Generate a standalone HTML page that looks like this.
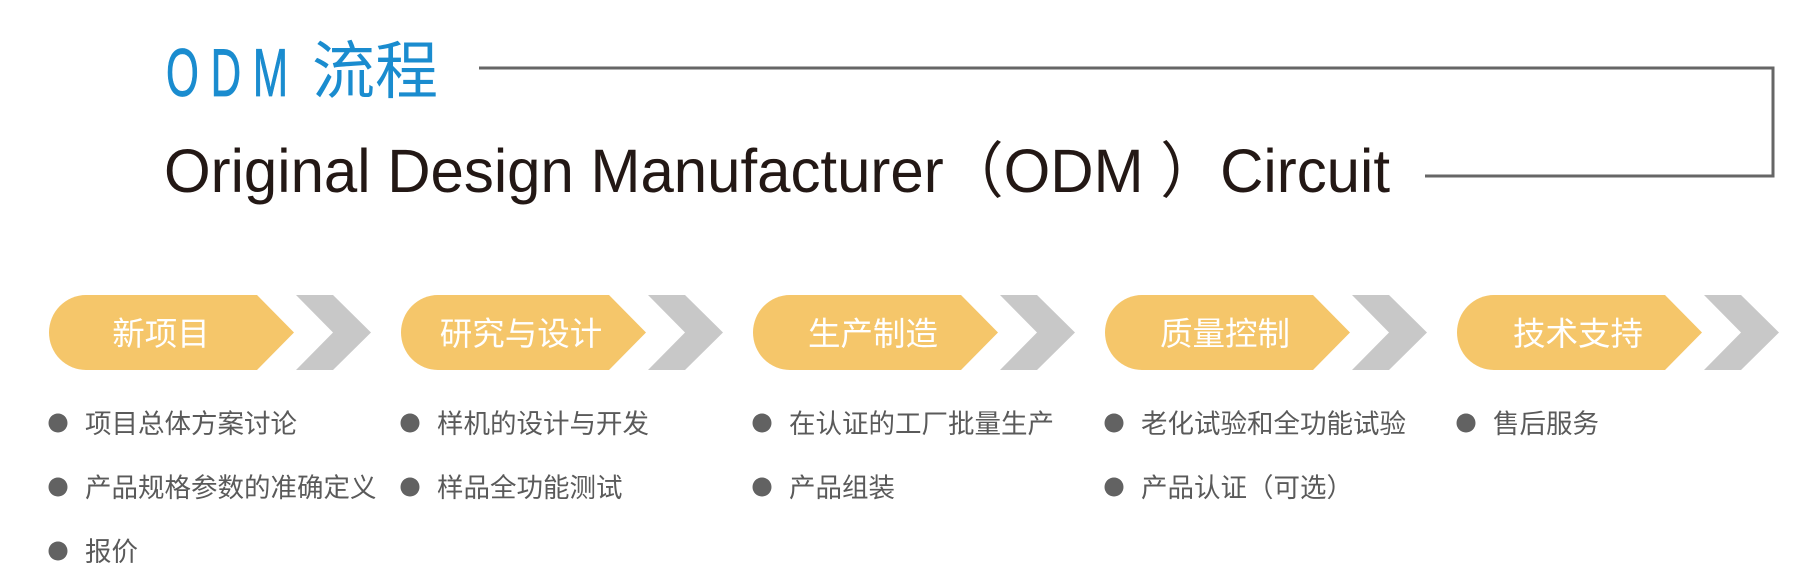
<!DOCTYPE html>
<html><head><meta charset="utf-8">
<style>
html,body{margin:0;padding:0;background:#fff;}
svg{display:block;}
</style></head>
<body>
<svg width="1811" height="571" viewBox="0 0 1811 571" xmlns="http://www.w3.org/2000/svg">
<g font-family="'Liberation Sans','Noto Sans CJK SC',sans-serif">
<text x="166" y="96" font-size="68" fill="#1a8ccf" stroke="#1a8ccf" stroke-width="0.8" textLength="122" lengthAdjust="spacingAndGlyphs">O D M</text>
<text x="312" y="93" font-size="63" fill="#1a8ccf" font-family="'Noto Sans CJK SC',sans-serif">流程</text>
<text x="164" y="192" font-size="61" fill="#231815" textLength="1226" lengthAdjust="spacingAndGlyphs">Original Design Manufacturer（ODM ）Circuit</text>
<polyline points="479,68 1773,68 1773,176 1425,176" fill="none" stroke="#666" stroke-width="3"/>
</g>
<g font-family="'Liberation Sans','Noto Sans CJK SC',sans-serif">
<path d="M86 295 H257 L294 332.5 L257 370 H86 A37 37.5 0 0 1 86 295 Z" fill="#f5c66a"/>
<path d="M296 295 H333 L371 332.5 L333 370 H296 L333 332.5 Z" fill="#c8c8c8"/>
<path d="M438 295 H609 L646 332.5 L609 370 H438 A37 37.5 0 0 1 438 295 Z" fill="#f5c66a"/>
<path d="M648 295 H685 L723 332.5 L685 370 H648 L685 332.5 Z" fill="#c8c8c8"/>
<path d="M790 295 H961 L998 332.5 L961 370 H790 A37 37.5 0 0 1 790 295 Z" fill="#f5c66a"/>
<path d="M1000 295 H1037 L1075 332.5 L1037 370 H1000 L1037 332.5 Z" fill="#c8c8c8"/>
<path d="M1142 295 H1313 L1350 332.5 L1313 370 H1142 A37 37.5 0 0 1 1142 295 Z" fill="#f5c66a"/>
<path d="M1352 295 H1389 L1427 332.5 L1389 370 H1352 L1389 332.5 Z" fill="#c8c8c8"/>
<path d="M1494 295 H1665 L1702 332.5 L1665 370 H1494 A37 37.5 0 0 1 1494 295 Z" fill="#f5c66a"/>
<path d="M1704 295 H1741 L1779 332.5 L1741 370 H1704 L1741 332.5 Z" fill="#c8c8c8"/>

<g font-size="32.5" fill="#fff" text-anchor="middle">
<text x="161" y="345">新项目</text>
<text x="521" y="345">研究与设计</text>
<text x="873" y="345">生产制造</text>
<text x="1225" y="345">质量控制</text>
<text x="1578" y="345">技术支持</text>
</g>

<g fill="#626262">
<circle cx="58" cy="423" r="9.5"/><circle cx="58" cy="487" r="9.5"/><circle cx="58" cy="551" r="9.5"/>
<circle cx="410" cy="423" r="9.5"/><circle cx="410" cy="487" r="9.5"/>
<circle cx="762" cy="423" r="9.5"/><circle cx="762" cy="487" r="9.5"/>
<circle cx="1114" cy="423" r="9.5"/><circle cx="1114" cy="487" r="9.5"/>
<circle cx="1466" cy="423" r="9.5"/>
</g>
<g font-size="26.5" fill="#5a5a5a">
<text x="85" y="433">项目总体方案讨论</text>
<text x="85" y="497">产品规格参数的准确定义</text>
<text x="85" y="561">报价</text>
<text x="437" y="433">样机的设计与开发</text>
<text x="437" y="497">样品全功能测试</text>
<text x="789" y="433">在认证的工厂批量生产</text>
<text x="789" y="497">产品组装</text>
<text x="1141" y="433">老化试验和全功能试验</text>
<text x="1141" y="497">产品认证（可选）</text>
<text x="1493" y="433">售后服务</text>
</g>
</g>
</svg>
</body></html>
